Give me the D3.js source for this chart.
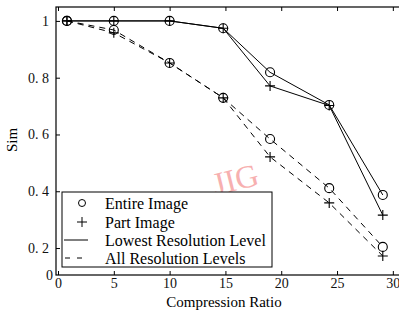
<!DOCTYPE html>
<html>
<head>
<meta charset="utf-8">
<script src="https://cdn.jsdelivr.net/npm/d3@7"></script>
<style>
    body { margin: 0; background: #fff; }
    svg { display: block; font-family: 'Liberation Serif', 'DejaVu Serif', serif; }
</style>
</head>
<body>
<div id="chart"></div>
<script>
// Compression ratios sampled
const ratios = [0.8, 5, 10, 14.8, 19, 24.3, 29.1];

// Sim values, lowest resolution level (solid)
const entireLowest = [1.0, 1.0, 1.0, 0.974, 0.819, 0.704, 0.387];
const partLowest = [1.0, 1.0, 1.0, 0.974, 0.771, 0.702, 0.316];

// Sim values, all resolution levels (dashed)
const entireAll = [1.0, 0.968, 0.852, 0.729, 0.584, 0.411, 0.204];
const partAll = [1.0, 0.958, 0.852, 0.729, 0.521, 0.359, 0.172];

const xTicks = [0, 5, 10, 15, 20, 25, 30];
const yTicks = [0.2, 0.4, 0.6, 0.8, 1];
const legendLabels = ['Entire Image', 'Part Image', 'Lowest Resolution Level', 'All Resolution Levels'];

const width = 399, height = 314;
const plot = { left: 56, right: 404, top: 7, bottom: 275 };

const svg = d3.select('#chart').append('svg')
    .attr('width', width)
    .attr('height', height);

const x = d3.scaleLinear().domain([-0.18, 31]).range([plot.left, plot.right]);
const y = d3.scaleLinear().domain([0.105, 1.049]).range([plot.bottom, plot.top]);

// watermark
svg.append('text')
    .attr('x', 238).attr('y', 190)
    .attr('transform', 'rotate(-14,238,190)')
    .attr('text-anchor', 'middle')
    .attr('font-size', 32)
    .attr('fill', '#f7b0b0')
    .text('JIG');

// Frame
svg.append('rect')
    .attr('x', plot.left).attr('y', plot.top)
    .attr('width', plot.right - plot.left).attr('height', plot.bottom - plot.top)
    .attr('fill', 'none').attr('stroke', '#000').attr('stroke-width', 1.2);

// Axes with inward ticks
const fmtY = d => d === 1 ? '1' : d.toFixed(1).replace('.', '. ');

svg.append('g')
    .attr('transform', `translate(0,${plot.bottom})`)
    .call(d3.axisBottom(x).tickValues(xTicks).tickSize(-4).tickPadding(3))
    .call(g => g.select('.domain').remove());

svg.append('g')
    .attr('transform', `translate(0,${plot.top})`)
    .call(d3.axisTop(x).tickValues(xTicks).tickSize(-4).tickFormat(''))
    .call(g => g.select('.domain').remove());

svg.append('g')
    .attr('transform', `translate(${plot.left},0)`)
    .call(d3.axisLeft(y).tickValues(yTicks).tickSize(-4).tickPadding(7).tickFormat(fmtY))
    .call(g => g.select('.domain').remove());

// bottom "0" label of the y axis
svg.append('g')
    .attr('transform', `translate(${plot.left},0)`)
    .call(d3.axisLeft(y).tickValues([0.105]).tickSize(0).tickPadding(3).tickFormat(() => '0'))
    .call(g => g.select('.domain').remove());

svg.selectAll('.tick text')
    .attr('font-family', "'Liberation Serif', serif")
    .attr('font-size', 14)
    .attr('fill', '#111');

// Axis titles
svg.append('text')
    .attr('x', 224).attr('y', 307)
    .attr('text-anchor', 'middle')
    .attr('font-size', 15)
    .text('Compression Ratio');

svg.append('text')
    .attr('transform', 'translate(17,140) rotate(-90)')
    .attr('text-anchor', 'middle')
    .attr('font-size', 15)
    .text('Sim');

// Series
const series = [
    { values: entireLowest, dash: null, marker: 'circle' },
    { values: partLowest, dash: null, marker: 'plus' },
    { values: entireAll, dash: '6,5', marker: 'circle' },
    { values: partAll, dash: '6,5', marker: 'plus' }
];

const line = d3.line()
    .x(d => x(d[0]))
    .y(d => y(d[1]));

series.forEach(s => {
    const pts = ratios.map((r, i) => [r, s.values[i]]);
    svg.append('path')
        .datum(pts)
        .attr('d', line)
        .attr('fill', 'none')
        .attr('stroke', '#000')
        .attr('stroke-width', 1)
        .attr('stroke-dasharray', s.dash);

    if (s.marker === 'circle') {
        svg.selectAll(null)
            .data(pts)
            .enter()
            .append('circle')
            .attr('cx', d => x(d[0]))
            .attr('cy', d => y(d[1]))
            .attr('r', 4.5)
            .attr('fill', 'none')
            .attr('stroke', '#000')
            .attr('stroke-width', 1.1);
    } else {
        svg.selectAll(null)
            .data(pts)
            .enter()
            .append('path')
            .attr('d', d => {
                const cx = x(d[0]), cy = y(d[1]);
                return `M${cx - 5},${cy}H${cx + 5}M${cx},${cy - 5}V${cy + 5}`;
            })
            .attr('stroke', '#000')
            .attr('stroke-width', 1.1);
    }
});

// Legend
const legend = svg.append('g');
legend.append('rect')
    .attr('x', 62).attr('y', 192)
    .attr('width', 210).attr('height', 75)
    .attr('fill', '#fff')
    .attr('stroke', '#000')
    .attr('stroke-width', 1);

const rowY = [203, 222, 240, 258];
legendLabels.forEach((label, i) => {
    legend.append('text')
        .attr('x', 105).attr('y', rowY[i])
        .attr('dy', '0.35em')
        .attr('font-size', 16)
        .text(label);
});

legend.append('circle')
    .attr('cx', 82).attr('cy', rowY[0])
    .attr('r', 3.5)
    .attr('fill', 'none').attr('stroke', '#000').attr('stroke-width', 1);

legend.append('path')
    .attr('d', `M77,${rowY[1]}H87M82,${rowY[1] - 5}V${rowY[1] + 5}`)
    .attr('stroke', '#000').attr('stroke-width', 1);

legend.append('line')
    .attr('x1', 64).attr('x2', 88)
    .attr('y1', rowY[2]).attr('y2', rowY[2])
    .attr('stroke', '#000').attr('stroke-width', 1);

legend.append('line')
    .attr('x1', 65).attr('x2', 85)
    .attr('y1', rowY[3]).attr('y2', rowY[3])
    .attr('stroke', '#000').attr('stroke-width', 1)
    .attr('stroke-dasharray', '5,7');
</script>
</body>
</html>
